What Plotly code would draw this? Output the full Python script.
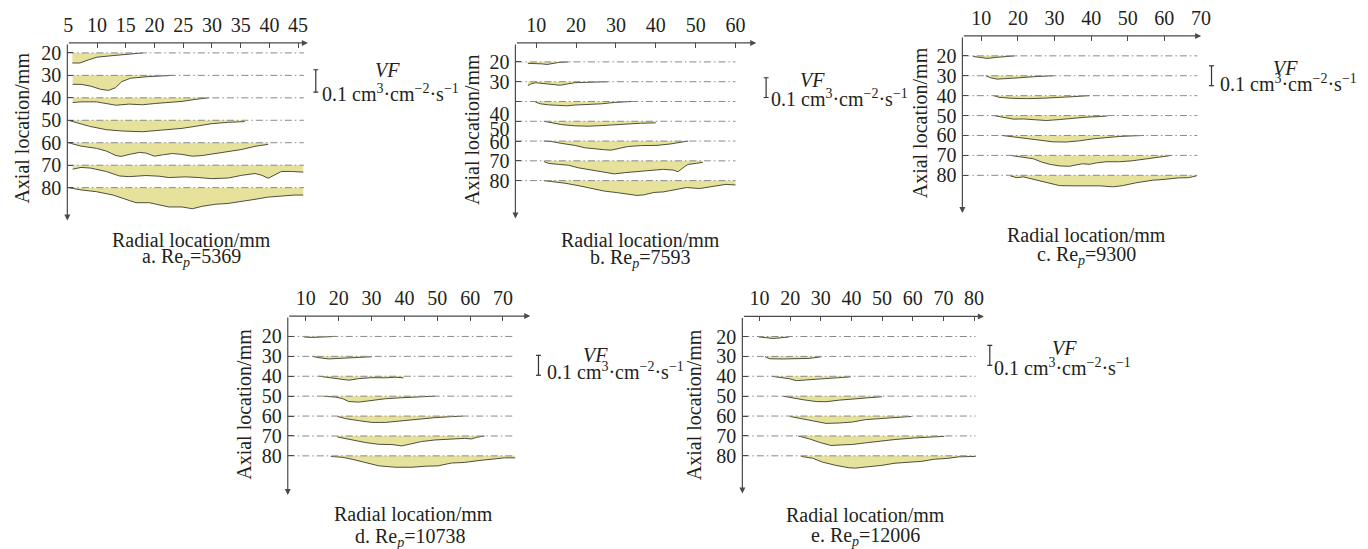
import plotly.graph_objects as go

W, H = 1368, 549
FONT = 'Liberation Serif'
TXT = '#231f20'
AXC = '#4a4a4a'
FILL = '#e6e29b'
EDGE = '#3c3c30'
DASHC = '#8a8a8a'
VF_TO_MM = 100  # 0.1 cm3·cm-2·s-1 is drawn as 10 mm on the axial axis

LEVELS = [20, 30, 40, 50, 60, 70, 80]
LEVEL_LABELS = ['20', '30', '40', '50', '60', '70', '80']
B_LABEL_POS = [20, 30, 46.1, 53.8, 60.5, 70, 80]

A_XTICKS = [5, 10, 15, 20, 25, 30, 35, 40, 45]
B_XTICKS = [10, 20, 30, 40, 50, 60]
C_XTICKS = [10, 20, 30, 40, 50, 60, 70]
D_XTICKS = [10, 20, 30, 40, 50, 60, 70]
E_XTICKS = [10, 20, 30, 40, 50, 60, 70, 80]

# ---------------- panel a : Re_p = 5369 ----------------
a20_r = [5.7, 7.0, 8.5, 10.0, 12.8, 15.6, 18.0]
a20_vf = [0.045, 0.045, 0.031, 0.019, 0.012, 0.004, 0.0]
a30_r = [5.75, 7.2, 8.9, 10.6, 12.0, 13.2, 14.3, 15.8, 18.7, 21.0, 23.3]
a30_vf = [0.040, 0.040, 0.048, 0.062, 0.067, 0.055, 0.028, 0.013, 0.006, 0.002, 0.0]
a40_r = [5.75, 7.2, 9.9, 11.6, 13.3, 15.6, 17.9, 20.2, 22.5, 24.8, 27.1, 29.4]
a40_vf = [0.021, 0.018, 0.018, 0.024, 0.033, 0.028, 0.031, 0.025, 0.022, 0.016, 0.007, 0.0]
a50_r = [5.0, 7.0, 8.7, 11.6, 14.5, 17.9, 21.3, 24.8, 27.1, 30.0, 32.9, 35.7]
a50_vf = [0.0, 0.015, 0.027, 0.042, 0.048, 0.051, 0.045, 0.036, 0.027, 0.015, 0.009, 0.006]
a60_r = [5.0, 7.2, 9.9, 11.6, 13.3, 14.2, 15.6, 17.4, 18.5, 20.0, 21.4, 23.1, 24.8, 26.6,
         28.3, 30.6, 32.9, 35.2, 37.5, 39.2, 39.8]
a60_vf = [0.0, 0.015, 0.025, 0.037, 0.057, 0.061, 0.052, 0.043, 0.046, 0.060, 0.054, 0.048,
          0.052, 0.060, 0.057, 0.049, 0.040, 0.030, 0.016, 0.007, 0.007]
a70_r = [5.75, 7.2, 8.9, 11.6, 13.9, 15.6, 18.5, 20.8, 22.5, 25.4, 27.7, 30.0, 32.9, 35.2,
         37.5, 38.7, 39.8, 41.0, 42.1, 43.8, 45.9]
a70_vf = [0.018, 0.010, 0.013, 0.028, 0.048, 0.051, 0.046, 0.049, 0.055, 0.052, 0.055, 0.060,
          0.057, 0.045, 0.037, 0.045, 0.058, 0.043, 0.028, 0.028, 0.031]
a80_r = [5.0, 7.2, 9.9, 12.8, 15.6, 16.8, 19.1, 20.8, 22.5, 24.8, 26.6, 28.3, 30.6, 32.9,
         35.2, 37.5, 39.8, 42.1, 44.4, 45.9]
a80_vf = [0.0, 0.010, 0.018, 0.033, 0.057, 0.067, 0.067, 0.077, 0.086, 0.086, 0.094, 0.083,
          0.074, 0.070, 0.062, 0.052, 0.042, 0.037, 0.033, 0.033]

# ---------------- panel b : Re_p = 7593 ----------------
b20_r = [7.9, 9.8, 11.5, 12.7, 14.0, 15.6, 18.1]
b20_vf = [0.007, 0.007, 0.010, 0.013, 0.008, 0.003, 0.0]
b30_r = [7.9, 8.6, 9.8, 11.5, 14.0, 16.0, 17.7, 19.7, 23.0, 26.3, 27.9]
b30_vf = [0.020, 0.012, 0.005, 0.008, 0.015, 0.018, 0.012, 0.005, 0.003, 0.0, 0.0]
b40_r = [9.8, 11.1, 13.1, 15.6, 17.7, 19.7, 23.0, 26.3, 29.6, 32.1, 33.9]
b40_vf = [0.003, 0.012, 0.017, 0.018, 0.022, 0.018, 0.015, 0.012, 0.005, 0.002, 0.0]
b50_r = [11.9, 14.0, 16.4, 19.7, 23.0, 26.3, 29.6, 32.9, 36.2, 40.0]
b50_vf = [0.0, 0.008, 0.017, 0.023, 0.025, 0.022, 0.017, 0.013, 0.010, 0.008]
b60_r = [11.9, 14.0, 16.4, 19.7, 22.2, 24.6, 27.1, 28.8, 30.4, 32.9, 36.2, 40.3, 43.6, 46.0, 48.1]
b60_vf = [0.0, 0.003, 0.012, 0.022, 0.034, 0.040, 0.044, 0.046, 0.039, 0.028, 0.023, 0.022,
          0.015, 0.005, 0.0]
b70_r = [11.9, 13.1, 15.6, 18.1, 20.5, 23.8, 27.1, 29.6, 32.1, 35.4, 38.6, 41.9, 44.4, 45.6,
         46.9, 48.1, 50.2, 51.8]
b70_vf = [0.003, 0.013, 0.018, 0.022, 0.035, 0.046, 0.057, 0.066, 0.060, 0.055, 0.050, 0.043,
          0.047, 0.055, 0.034, 0.018, 0.013, 0.007]
b80_r = [11.9, 14.0, 17.2, 20.5, 23.8, 27.1, 30.4, 32.9, 35.3, 37.0, 39.5, 41.9, 44.4, 47.7,
         51.0, 54.3, 57.6, 60.0]
b80_vf = [0.0, 0.005, 0.013, 0.025, 0.040, 0.053, 0.061, 0.069, 0.075, 0.072, 0.060, 0.057,
          0.049, 0.035, 0.040, 0.031, 0.019, 0.022]

# ---------------- panel c : Re_p = 9300 ----------------
c20_r = [7.75, 9.4, 11.6, 13.9, 16.1, 19.3]
c20_vf = [0.003, 0.008, 0.013, 0.008, 0.005, 0.0]
c30_r = [11.2, 12.5, 14.3, 17.0, 20.6, 24.2, 29.6]
c30_vf = [0.0, 0.010, 0.017, 0.015, 0.010, 0.005, 0.0]
c40_r = [13.4, 14.8, 17.9, 22.4, 26.9, 31.4, 35.0, 39.5]
c40_vf = [0.0, 0.008, 0.013, 0.015, 0.013, 0.010, 0.005, 0.0]
c50_r = [13.4, 16.1, 18.8, 21.5, 24.2, 27.8, 31.4, 35.0, 38.6, 42.3, 44.5]
c50_vf = [0.0, 0.010, 0.018, 0.017, 0.020, 0.025, 0.020, 0.013, 0.008, 0.005, 0.002]
c60_r = [15.7, 18.8, 22.4, 26.0, 29.6, 33.2, 36.8, 40.5, 44.1, 47.7, 51.3, 54.4]
c60_vf = [0.0, 0.007, 0.017, 0.027, 0.032, 0.033, 0.027, 0.017, 0.010, 0.005, 0.002, 0.0]
c70_r = [17.9, 20.6, 24.2, 26.4, 28.7, 31.4, 34.1, 35.9, 37.7, 39.5, 41.4, 44.1, 47.7, 51.3,
         54.9, 58.5, 62.1]
c70_vf = [0.0, 0.008, 0.017, 0.033, 0.045, 0.053, 0.055, 0.048, 0.042, 0.045, 0.038, 0.032,
          0.032, 0.027, 0.018, 0.008, 0.0]
c80_r = [17.9, 19.7, 21.5, 24.2, 27.8, 31.4, 35.0, 38.6, 42.3, 45.9, 48.6, 52.2, 56.7, 60.3,
         63.9, 66.6, 68.8]
c80_vf = [0.003, 0.012, 0.008, 0.020, 0.038, 0.052, 0.053, 0.053, 0.053, 0.058, 0.052, 0.038,
          0.025, 0.020, 0.013, 0.012, 0.003]

# ---------------- panel d : Re_p = 10738 ----------------
d20_r = [9.5, 12.0, 15.0, 19.1]
d20_vf = [0.003, 0.005, 0.003, 0.0]
d30_r = [12.0, 14.0, 17.0, 20.1, 24.1, 30.1]
d30_vf = [0.0, 0.007, 0.013, 0.010, 0.005, 0.002]
d40_r = [14.0, 17.0, 20.1, 23.1, 26.1, 30.1, 34.2, 37.2, 39.7]
d40_vf = [0.0, 0.007, 0.012, 0.020, 0.012, 0.007, 0.008, 0.005, 0.008]
d50_r = [15.5, 19.1, 21.1, 23.1, 26.1, 30.1, 34.2, 39.2, 44.2, 49.3]
d50_vf = [0.0, 0.005, 0.012, 0.027, 0.030, 0.020, 0.013, 0.008, 0.003, 0.0]
d60_r = [19.6, 22.1, 26.1, 30.1, 34.2, 37.2, 40.2, 44.2, 49.3, 54.3, 57.8]
d60_vf = [0.002, 0.013, 0.023, 0.032, 0.032, 0.027, 0.020, 0.013, 0.008, 0.003, 0.0]
d70_r = [19.6, 24.1, 28.1, 32.2, 36.2, 39.2, 41.7, 45.2, 49.3, 54.3, 58.3, 60.4, 61.9, 64.4]
d70_vf = [0.005, 0.020, 0.033, 0.042, 0.043, 0.050, 0.040, 0.028, 0.020, 0.015, 0.012, 0.015,
          0.007, 0.0]
d80_r = [17.6, 21.1, 24.1, 28.1, 32.2, 37.2, 42.3, 46.3, 50.3, 54.3, 58.3, 62.4, 66.4, 70.4, 73.7]
d80_vf = [0.003, 0.007, 0.017, 0.035, 0.050, 0.057, 0.057, 0.052, 0.050, 0.036, 0.033, 0.024,
          0.016, 0.010, 0.010]

# ---------------- panel e : Re_p = 12006 ----------------
e20_r = [9.7, 12.4, 14.5, 16.7, 19.7]
e20_vf = [0.002, 0.008, 0.010, 0.007, 0.002]
e30_r = [11.8, 13.4, 17.7, 22.0, 26.3, 30.1]
e30_vf = [0.002, 0.012, 0.013, 0.013, 0.010, 0.002]
e40_r = [14.0, 16.7, 19.9, 22.0, 25.2, 29.5, 34.9, 39.7]
e40_vf = [0.0, 0.005, 0.013, 0.022, 0.018, 0.013, 0.008, 0.003]
e50_r = [17.7, 20.9, 24.2, 28.5, 31.7, 36.0, 40.3, 45.6, 49.9]
e50_vf = [0.0, 0.010, 0.018, 0.027, 0.028, 0.020, 0.013, 0.008, 0.003]
e60_r = [19.9, 24.2, 28.5, 31.7, 36.0, 40.3, 44.6, 48.8, 54.2, 59.6]
e60_vf = [0.002, 0.015, 0.028, 0.037, 0.035, 0.030, 0.018, 0.013, 0.010, 0.002]
e70_r = [22.6, 26.3, 29.5, 33.3, 37.0, 40.3, 44.5, 49.9, 54.2, 60.6, 64.9, 70.3]
e70_vf = [0.0, 0.015, 0.032, 0.048, 0.045, 0.043, 0.035, 0.025, 0.018, 0.010, 0.005, 0.002]
e80_r = [23.6, 27.3, 30.6, 34.9, 39.2, 41.3, 43.4, 46.7, 49.9, 54.2, 58.5, 62.8, 67.1, 71.4,
         75.0, 80.5]
e80_vf = [0.003, 0.012, 0.032, 0.048, 0.060, 0.062, 0.058, 0.053, 0.048, 0.037, 0.032, 0.028,
          0.017, 0.013, 0.005, 0.003]

PANELS = [
    dict(label='a. Re<sub><i>p</i></sub>=5369', xticks=A_XTICKS,
         curves=[(a20_r, a20_vf), (a30_r, a30_vf), (a40_r, a40_vf), (a50_r, a50_vf),
                 (a60_r, a60_vf), (a70_r, a70_vf), (a80_r, a80_vf)],
         px=(64, 307), py=(42, 220), xr=(4.83, 46.7), yr=(94.67, 15.56), dash_end=46.0,
         bar_x=315, bar_y=(27.5, 37.5), vf=(387, 69), unit=(319, 92),
         ytitle=(18, 127), xtitle=(189.5, 239), sub=(189.5, 257)),
    dict(label='b. Re<sub><i>p</i></sub>=7593', xticks=B_XTICKS,
         curves=[(b20_r, b20_vf), (b30_r, b30_vf), (b40_r, b40_vf), (b50_r, b50_vf),
                 (b60_r, b60_vf), (b70_r, b70_vf), (b80_r, b80_vf)],
         px=(516.7, 760), py=(42, 218), xr=(4.78, 65.2), yr=(99.2, 10.4), dash_end=60.0,
         bar_x=770, bar_y=(28, 38), vf=(817, 79), unit=(773, 97),
         ytitle=(473, 129), xtitle=(643, 239), sub=(643, 258)),
    dict(label='c. Re<sub><i>p</i></sub>=9300', xticks=C_XTICKS,
         curves=[(c20_r, c20_vf), (c30_r, c30_vf), (c40_r, c40_vf), (c50_r, c50_vf),
                 (c60_r, c60_vf), (c70_r, c70_vf), (c80_r, c80_vf)],
         px=(968.3, 1209.5), py=(35, 212.3), xr=(4.83, 70.05), yr=(98.9, 10.0), dash_end=69.0,
         bar_x=1220, bar_y=(25, 35), vf=(1295, 67), unit=(1227, 82),
         ytitle=(925, 122), xtitle=(1094, 234), sub=(1094, 255)),
    dict(label='d. Re<sub><i>p</i></sub>=10738', xticks=D_XTICKS,
         curves=[(d20_r, d20_vf), (d30_r, d30_vf), (d40_r, d40_vf), (d50_r, d50_vf),
                 (d60_r, d60_vf), (d70_r, d70_vf), (d80_r, d80_vf)],
         px=(286.7, 531.7), py=(315.7, 495), xr=(4.5, 78.3), yr=(99.7, 9.8), dash_end=73.7,
         bar_x=540, bar_y=(29.5, 39.5), vf=(598, 355), unit=(547, 371),
         ytitle=(243, 404), xtitle=(413.5, 514), sub=(411, 537)),
    dict(label='e. Re<sub><i>p</i></sub>=12006', xticks=E_XTICKS,
         curves=[(e20_r, e20_vf), (e30_r, e30_vf), (e40_r, e40_vf), (e50_r, e50_vf),
                 (e60_r, e60_vf), (e70_r, e70_vf), (e80_r, e80_vf)],
         px=(746, 990), py=(316, 493.3), xr=(4.4, 83.2), yr=(98.9, 9.9), dash_end=80.5,
         bar_x=996, bar_y=(24.5, 34.5), vf=(1071, 348), unit=(998, 367),
         ytitle=(697, 404), xtitle=(870, 515), sub=(870, 536)),
]

fig = go.Figure()
layout = dict(width=W, height=H, autosize=False, margin=dict(l=0, r=0, t=0, b=0),
              paper_bgcolor='white', plot_bgcolor='white', showlegend=False,
              font=dict(family=FONT, size=20, color=TXT))
annotations = []
shapes = []


def px2x(p):
    return p / W


def px2y(p):
    return 1 - p / H


tickfont = dict(family=FONT, size=20, color=TXT)
textfont = dict(family=FONT, size=20, color=TXT)

for i, p in enumerate(PANELS):
    n = '' if i == 0 else str(i + 1)
    xn, yn = 'x' + n, 'y' + n
    # filled profiles + outlines
    for level, (rr, vf) in zip(LEVELS, p['curves']):
        depth = [level + v * VF_TO_MM for v in vf]
        fig.add_trace(go.Scatter(
            x=[rr[0]] + rr + [rr[-1]], y=[level] + depth + [level],
            mode='lines', fill='toself', fillcolor=FILL, line=dict(width=0),
            hoverinfo='skip', xaxis=xn, yaxis=yn))
        fig.add_trace(go.Scatter(
            x=rr, y=depth, mode='lines', line=dict(color=EDGE, width=0.9),
            hoverinfo='skip', xaxis=xn, yaxis=yn))
    # dash-dot reference lines
    for level in LEVELS:
        fig.add_trace(go.Scatter(
            x=[p['xr'][0], p['dash_end']], y=[level, level], mode='lines',
            line=dict(color=DASHC, width=1, dash='7px,3px,1.5px,3px'),
            hoverinfo='skip', xaxis=xn, yaxis=yn))

    layout['xaxis' + n] = dict(
        domain=[px2x(p['px'][0]), px2x(p['px'][1])], range=list(p['xr']), side='top',
        anchor=yn, tickvals=p['xticks'], ticks='inside', ticklen=5, tickwidth=1.2,
        tickcolor=AXC, showline=False, showgrid=False, zeroline=False, tickfont=tickfont,
        ticklabelstandoff=6)
    layout['yaxis' + n] = dict(
        domain=[px2y(p['py'][1]), px2y(p['py'][0])], range=list(p['yr']), anchor=xn,
        tickvals=LEVELS, ticktext=LEVEL_LABELS, ticks='inside', ticklen=6, tickwidth=1.2,
        tickcolor=AXC, showline=False, showgrid=False, zeroline=False, tickfont=tickfont,
        ticklabelstandoff=5, showticklabels=(i != 1))

    # axis lines with arrows
    annotations.append(dict(x=p['xr'][1], y=p['yr'][1], ax=p['xr'][0], ay=p['yr'][1],
                            xref=xn, yref=yn, axref=xn, ayref=yn, text='', showarrow=True,
                            arrowhead=2, arrowsize=1, arrowwidth=1.2, arrowcolor=AXC))
    annotations.append(dict(x=p['xr'][0], y=p['yr'][0], ax=p['xr'][0], ay=p['yr'][1],
                            xref=xn, yref=yn, axref=xn, ayref=yn, text='', showarrow=True,
                            arrowhead=2, arrowsize=1, arrowwidth=1.2, arrowcolor=AXC))

    # VF scale bar (0.1 cm3 cm-2 s-1)
    bx = px2x(p['bar_x'])
    dx = 2.5 / W
    shapes.append(dict(type='line', xref='paper', yref=yn, x0=bx, x1=bx,
                       y0=p['bar_y'][0], y1=p['bar_y'][1], line=dict(color='#333', width=1.2)))
    for yb in p['bar_y']:
        shapes.append(dict(type='line', xref='paper', yref=yn, x0=bx - dx, x1=bx + dx,
                           y0=yb, y1=yb, line=dict(color='#333', width=1.2)))
    annotations.append(dict(x=px2x(p['vf'][0]), y=px2y(p['vf'][1]), xref='paper', yref='paper',
                            text='<i>VF</i>', showarrow=False, xanchor='center', yanchor='middle',
                            font=textfont))
    annotations.append(dict(x=px2x(p['unit'][0]), y=px2y(p['unit'][1]), xref='paper', yref='paper',
                            text='0.1 cm<sup>3</sup>·cm<sup>−2</sup>·s<sup>−1</sup>',
                            showarrow=False, xanchor='left', yanchor='middle',
                            font=textfont))
    # titles
    annotations.append(dict(x=px2x(p['ytitle'][0]), y=px2y(p['ytitle'][1]), xref='paper',
                            yref='paper', text='Axial location/mm', textangle=-90,
                            showarrow=False, xanchor='center', yanchor='middle',
                            font=textfont))
    annotations.append(dict(x=px2x(p['xtitle'][0]), y=px2y(p['xtitle'][1]), xref='paper',
                            yref='paper', text='Radial location/mm', showarrow=False,
                            xanchor='center', yanchor='middle', font=textfont))
    annotations.append(dict(x=px2x(p['sub'][0]), y=px2y(p['sub'][1]), xref='paper',
                            yref='paper', text=p['label'], showarrow=False,
                            xanchor='center', yanchor='middle', font=textfont))

# panel b: its axial tick labels sit at shifted positions in the original figure
pb = PANELS[1]
layout['yaxis6'] = dict(overlaying='y2', anchor='x2', range=list(pb['yr']),
                        domain=layout['yaxis2']['domain'], tickvals=B_LABEL_POS,
                        ticktext=LEVEL_LABELS, ticks='', showline=False, showgrid=False,
                        zeroline=False, tickfont=tickfont, ticklabelstandoff=5)
fig.add_trace(go.Scatter(x=[30], y=[50], mode='markers', marker=dict(opacity=0),
                         hoverinfo='skip', xaxis='x2', yaxis='y6'))

layout['annotations'] = annotations
layout['shapes'] = shapes
fig.update_layout(**layout)
fig.write_html('out.html')
